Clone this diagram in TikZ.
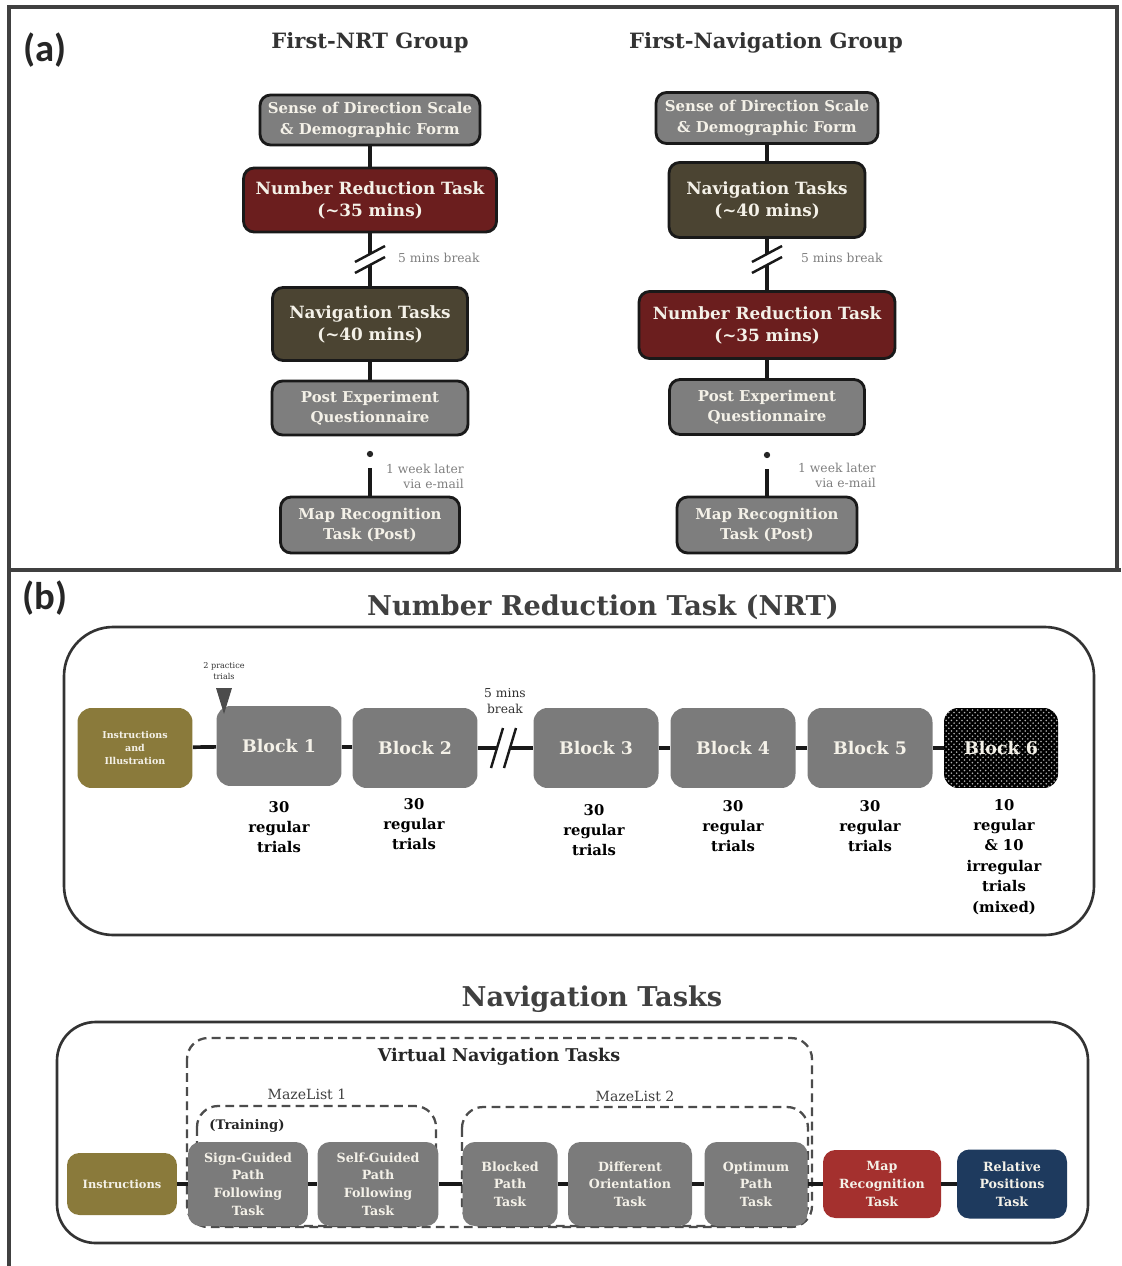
\documentclass[tikz,border=0pt]{standalone}
\usepackage{fontspec}
\setmainfont{DejaVu Serif}
\newfontfamily\panelfont{Carlito}
\usetikzlibrary{patterns}

\definecolor{paper}{HTML}{F4F1E8}
\definecolor{stepgrey}{HTML}{7E7E7E}
\definecolor{nrtred}{HTML}{6B1E1E}
\definecolor{navolive}{HTML}{4B4432}
\definecolor{instrolive}{HTML}{8A7A3B}
\definecolor{blockgrey}{HTML}{7B7B7B}
\definecolor{mapred}{HTML}{A4302E}
\definecolor{relnavy}{HTML}{1E3A5E}

\tikzset{
  panelframe/.style={line width=2.2pt, draw=black!75},
  stage/.style={draw=black!90, line width=1.6pt, rounded corners=6pt, text=paper, align=center,
    inner sep=1pt, font=\bfseries\fontsize{8.5}{11.4}\selectfont},
  greystage/.style={stage, fill=stepgrey},
  redstage/.style={stage, fill=nrtred, font=\bfseries\fontsize{9.6}{12.5}\selectfont},
  olivestage/.style={stage, fill=navolive, font=\bfseries\fontsize{9.6}{12.5}\selectfont},
  link/.style={line width=2.1pt, draw=black!90},
  cut/.style={line width=1.4pt, draw=black!90},
  grouptitle/.style={font=\bfseries\fontsize{12}{14}\selectfont, text=black!80},
  remark/.style={font=\fontsize{7}{8.6}\selectfont, text=black!50},
  bigtitle/.style={font=\bfseries\fontsize{15.5}{18}\selectfont, text=black!75},
  block/.style={fill=blockgrey, rounded corners=8pt, text=paper, align=center, inner sep=1pt,
    minimum width=2.5cm, minimum height=1.6cm, font=\bfseries\fontsize{9.9}{12}\selectfont},
  trials/.style={anchor=north, align=center, font=\bfseries\fontsize{8.4}{11.6}\selectfont},
  navbox/.style={fill=blockgrey, rounded corners=7pt, text=paper, align=center, inner sep=1pt,
    minimum height=1.68cm, font=\bfseries\fontsize{7.2}{10}\selectfont},
  setbox/.style={dash pattern=on 5pt off 3pt, line width=1.3pt, draw=black!70, rounded corners=12pt},
  setlabel/.style={font=\fontsize{8}{10}\selectfont, text=black!75},
}

\begin{document}
\begin{tikzpicture}[x=0.02cm, y=-0.02cm]
    \fill[white] (0,0) rectangle (1121,1266);
    \useasboundingbox (0,0) rectangle (1121,1266);

    % outer frame
    \draw[panelframe] (9,1266) -- (9,7) -- (1117,7) -- (1117,570);
    \draw[panelframe] (9,570) -- (1121,570);

    % (a) First-NRT Group
    \node[font=\panelfont\bfseries\fontsize{22}{24}\selectfont, text=black!85] (tagA) at (45,50) {(a)};
    \node[grouptitle] (titleL) at (370,43) {First-NRT Group};
    \node[greystage, minimum width=4.4cm, minimum height=1cm] (sodL) at (370,120) {Sense of Direction Scale\\\& Demographic Form};
    \node[redstage, minimum width=5.06cm, minimum height=1.28cm] (nrtL) at (370,200) {Number Reduction Task\\(\textasciitilde35 mins)};
    \node[olivestage, minimum width=3.9cm, minimum height=1.46cm] (navL) at (370,324) {Navigation Tasks\\(\textasciitilde40 mins)};
    \node[greystage, minimum width=3.92cm, minimum height=1.08cm] (postL) at (370,408) {Post Experiment\\Questionnaire};
    \node[greystage, minimum width=3.58cm, minimum height=1.12cm] (mapL) at (370,525) {Map Recognition\\Task (Post)};
    \coordinate (cutLa) at (370,254);
    \coordinate (cutLb) at (370,265);
    \coordinate (dotL) at (370,454);
    \coordinate (weekL) at (370,468);
    \draw[link] (sodL) -- (nrtL);
    \draw[link] (nrtL) -- (cutLa);
    \draw[link] (cutLb) -- (navL);
    \draw[cut] (cutLa) ++(-15,8) -- ++(30,-16);
    \draw[cut] (cutLb) ++(-15,8) -- ++(30,-16);
    \draw[link] (navL) -- (postL);
    \fill[black!85] (dotL) circle (1.8pt);
    \draw[link] (weekL) -- (mapL);
    \node[remark, anchor=west] (breakL) at (392,258) {5 mins break};
    \node[remark, anchor=west, align=right] (laterL) at (380,476) {1 week later\\via e-mail};

    % (a) First-Navigation Group
    \node[grouptitle] (titleR) at (766,43) {First-Navigation Group};
    \node[greystage, minimum width=4.44cm, minimum height=1.02cm] (sodR) at (767,118) {Sense of Direction Scale\\\& Demographic Form};
    \node[olivestage, minimum width=3.92cm, minimum height=1.5cm] (navR) at (767,200) {Navigation Tasks\\(\textasciitilde40 mins)};
    \node[redstage, minimum width=5.12cm, minimum height=1.34cm] (nrtR) at (767,325) {Number Reduction Task\\(\textasciitilde35 mins)};
    \node[greystage, minimum width=3.9cm, minimum height=1.1cm] (postR) at (767,407) {Post Experiment\\Questionnaire};
    \node[greystage, minimum width=3.6cm, minimum height=1.12cm] (mapR) at (767,525) {Map Recognition\\Task (Post)};
    \coordinate (cutRa) at (767,254);
    \coordinate (cutRb) at (767,265);
    \coordinate (dotR) at (767,455);
    \coordinate (weekR) at (767,469);
    \draw[link] (sodR) -- (navR);
    \draw[link] (navR) -- (cutRa);
    \draw[link] (cutRb) -- (nrtR);
    \draw[cut] (cutRa) ++(-15,8) -- ++(30,-16);
    \draw[cut] (cutRb) ++(-15,8) -- ++(30,-16);
    \draw[link] (nrtR) -- (postR);
    \fill[black!85] (dotR) circle (1.8pt);
    \draw[link] (weekR) -- (mapR);
    \node[remark, anchor=west] (breakR) at (795,258) {5 mins break};
    \node[remark, anchor=west, align=right] (laterR) at (792,475) {1 week later\\via e-mail};

    % (b) Number Reduction Task
    \node[font=\panelfont\bfseries\fontsize{22}{24}\selectfont, text=black!85] (tagB) at (45,598) {(b)};
    \node[bigtitle] (nrtTitle) at (603,607) {Number Reduction Task (NRT)};
    \draw[line width=1.5pt, draw=black!80, rounded corners=28pt] (64,627) rectangle (1094,935);
    \node[block, fill=instrolive, minimum width=2.3cm, font=\bfseries\fontsize{5.4}{7.6}\selectfont] (instB) at (135,748) {Instructions\\and\\Illustration};
    \node[block] (b1) at (279,746) {Block 1};
    \node[block] (b2) at (415,748) {Block 2};
    \node[block] (b3) at (596,748) {Block 3};
    \node[block] (b4) at (733,748) {Block 4};
    \node[block] (b5) at (870,748) {Block 5};
    \node[block, minimum width=2.28cm, fill=black, postaction={pattern=crosshatch dots, pattern color=black!30}] (b6) at (1001,748) {Block 6};
    \coordinate (brkBa) at (497,748);
    \coordinate (brkBb) at (510,748);
    \draw[link] (instB) -- (b1) -- (b2) -- (brkBa);
    \draw[link] (brkBb) -- (b3) -- (b4) -- (b5) -- (b6);
    \draw[cut] (brkBa) ++(-6,20) -- ++(12,-40);
    \draw[cut] (brkBb) ++(-6,20) -- ++(12,-40);
    \node[font=\fontsize{7}{9.6}\selectfont, text=black!80, align=center] (breakB) at (505,701) {5 mins\\break};
    \fill[black!70] (216,688) -- (232,688) -- (224,714) -- cycle;
    \node[font=\fontsize{4.6}{6.4}\selectfont, text=black!80, align=center] (practice) at (224,671) {2 practice\\trials};
    \node[trials] (t1) at (279,795) {30\\regular\\trials};
    \node[trials] (t2) at (414,792) {30\\regular\\trials};
    \node[trials] (t3) at (594,798) {30\\regular\\trials};
    \node[trials] (t4) at (733,794) {30\\regular\\trials};
    \node[trials] (t5) at (870,794) {30\\regular\\trials};
    \node[trials] (t6) at (1004,793) {10\\regular\\\& 10\\irregular\\trials\\(mixed)};

    % (b) Navigation Tasks
    \node[bigtitle] (navTitle) at (592,999) {Navigation Tasks};
    \draw[line width=1.5pt, draw=black!80, rounded corners=22pt] (57,1022) rectangle (1088,1243);
    \draw[setbox] (187,1038) rectangle (812,1227);
    \draw[setbox] (197,1106) rectangle (436,1226);
    \draw[setbox] (462,1107) rectangle (808,1226);
    \node[font=\bfseries\fontsize{10}{12}\selectfont, text=black!85] (virtual) at (499,1057) {Virtual Navigation Tasks};
    \node[setlabel] (maze1) at (307,1094) {MazeList 1};
    \node[setlabel] (maze2) at (635,1096) {MazeList 2};
    \node[font=\bfseries\fontsize{7.5}{9}\selectfont, text=black!85] (training) at (247,1126) {(Training)};
    \node[navbox, fill=instrolive, minimum width=2.2cm, minimum height=1.24cm, font=\bfseries\fontsize{6.5}{8}\selectfont] (insN) at (122,1184) {Instructions};
    \node[navbox, minimum width=2.4cm] (sgN) at (248,1184) {Sign-Guided\\Path\\Following\\Task};
    \node[navbox, minimum width=2.42cm] (sfN) at (378,1184) {Self-Guided\\Path\\Following\\Task};
    \node[navbox, minimum width=1.9cm] (blN) at (510,1184) {Blocked\\Path\\Task};
    \node[navbox, minimum width=2.48cm] (doN) at (630,1184) {Different\\Orientation\\Task};
    \node[navbox, minimum width=2.06cm] (opN) at (756,1184) {Optimum\\Path\\Task};
    \node[navbox, fill=mapred, minimum width=2.36cm, minimum height=1.36cm] (mrN) at (882,1184) {Map\\Recognition\\Task};
    \node[navbox, fill=relnavy, minimum width=2.2cm, minimum height=1.38cm] (rpN) at (1012,1184) {Relative\\Positions\\Task};
    \draw[link] (insN) -- (sgN) -- (sfN) -- (blN) -- (doN) -- (opN) -- (mrN) -- (rpN);
\end{tikzpicture}
\end{document}
